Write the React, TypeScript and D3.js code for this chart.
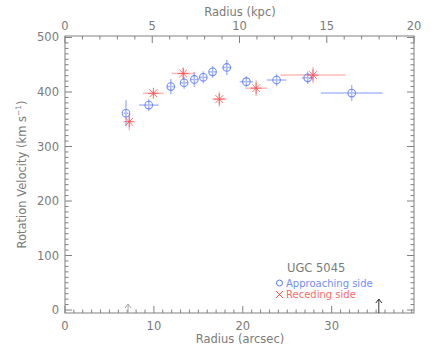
import React from "react";
import * as d3 from "d3";

// Approaching side (blue circles)
const appR = [6.86, 9.42, 11.9, 13.4, 14.55, 15.56, 16.6, 18.2, 20.4, 23.8, 27.3, 32.25];
const appRerr = [0.25, 1.1, 0.45, 0.4, 0.45, 0.4, 0.4, 0.5, 0.75, 1.1, 0.65, 3.47];
const appV = [361, 376, 410, 417, 423, 427, 437, 445, 419, 422, 426, 398];
const appVerr = [24, 11, 14, 11, 14, 11, 11, 14, 10, 11.5, 11.5, 15];

// Receding side (red stars)
const recR = [7.23, 9.94, 13.3, 17.36, 21.5, 27.9];
const recRerr = [0.2, 1.16, 1.3, 0.8, 1.25, 3.66];
const recV = [345.5, 397.6, 434, 387, 407, 431];
const recVerr = [15.6, 5, 11, 14, 14.5, 15];

const xTicks = [0, 10, 20, 30];
const kpcTicks = [0, 5, 10, 15, 20];
const yTicks = [0, 100, 200, 300, 400, 500];
const arrowsR = [7.1, 35.3];

const W = 436, H = 349;
const L = 65, R = 414, T = 36, B = 313;
const AX = "#808080";
const TXT = "#7a7a7a";
const BLUE = "#5a78ff";
const RED = "#ff5050";
const FONT = "'DejaVu Sans', sans-serif";

export default function App() {
  const x = d3.scaleLinear().domain([0, 39.26]).range([L, R]);
  const xk = d3.scaleLinear().domain([0, 20]).range([L, R]);
  const y = d3.scaleLinear().domain([-5.5, 502.75]).range([B, T]);

  const xMinor = d3.range(0, 40, 1).filter((v) => x(v) <= R + 0.1);
  const kMinor = d3.range(0, 21, 1);
  const yMinor = d3.range(0, 501, 10);

  const star = (cx: number, cy: number, r: number, key: string) => {
    const angles = [0, 45, 90, 135];
    return (
      <g key={key}>
        {angles.map((a) => {
          const rad = (a * Math.PI) / 180;
          const dx = Math.cos(rad) * r, dy = Math.sin(rad) * r;
          return <line key={a} x1={cx - dx} y1={cy - dy} x2={cx + dx} y2={cy + dy} stroke={RED} strokeWidth={1} opacity={0.8} />;
        })}
      </g>
    );
  };

  return (
    <svg width={W} height={H} style={{ position: "absolute", left: 0, top: 0, background: "#fff" }} fontFamily={FONT}>
      <rect x={0} y={0} width={W} height={H} fill="#fff" />
      <rect x={L} y={T} width={R - L} height={B - T} fill="none" stroke={AX} strokeWidth={1} />
      {xMinor.map((v) => (
        <line key={"xm" + v} x1={x(v)} x2={x(v)} y1={B} y2={B - (v % 10 === 0 ? 7 : 3.5)} stroke={AX} />
      ))}
      {kMinor.map((v) => (
        <line key={"km" + v} x1={xk(v)} x2={xk(v)} y1={T} y2={T + (v % 5 === 0 ? 7 : 3.5)} stroke={AX} />
      ))}
      {yMinor.map((v) => (
        <g key={"ym" + v}>
          <line x1={L} x2={L + (v % 100 === 0 ? 7 : 3.5)} y1={y(v)} y2={y(v)} stroke={AX} />
          <line x1={R} x2={R - (v % 100 === 0 ? 7 : 3.5)} y1={y(v)} y2={y(v)} stroke={AX} />
        </g>
      ))}
      {xTicks.map((v) => (
        <text key={"xt" + v} x={x(v)} y={330} textAnchor="middle" fontSize={11.5} fill={TXT}>{v}</text>
      ))}
      {kpcTicks.map((v) => (
        <text key={"kt" + v} x={xk(v)} y={30} textAnchor="middle" fontSize={11.5} fill={TXT}>{v}</text>
      ))}
      {yTicks.map((v) => (
        <text key={"yt" + v} x={59} y={y(v) + 4} textAnchor="end" fontSize={11.5} fill={TXT}>{v}</text>
      ))}
      <text x={240} y={16} textAnchor="middle" fontSize={11.5} fill={TXT}>Radius (kpc)</text>
      <text x={240} y={343} textAnchor="middle" fontSize={11.5} fill={TXT}>Radius (arcsec)</text>
      <text transform={`translate(26,${(T + B) / 2}) rotate(-90)`} textAnchor="middle" fontSize={11.5} fill={TXT}>
        Rotation Velocity (km s<tspan dy={-5} fontSize={7.5}>−1</tspan><tspan dy={5}>)</tspan>
      </text>
      {arrowsR.map((r, i) => {
        const top = i === 0 ? 304 : 299;
        const col = i === 0 ? "#aaa" : "#333";
        return (
          <g key={"ar" + i} stroke={col} strokeWidth={1} fill="none">
            <line x1={x(r)} x2={x(r)} y1={B} y2={top} />
            <polyline points={`${x(r) - 3},${top + 4} ${x(r)},${top} ${x(r) + 3},${top + 4}`} />
          </g>
        );
      })}
      {appR.map((r, i) => (
        <g key={"ae" + i} stroke={BLUE} strokeWidth={1.5} opacity={0.5}>
          <line x1={x(r - appRerr[i])} x2={x(r + appRerr[i])} y1={y(appV[i])} y2={y(appV[i])} />
          <line x1={x(r)} x2={x(r)} y1={y(appV[i] - appVerr[i])} y2={y(appV[i] + appVerr[i])} />
        </g>
      ))}
      {recR.map((r, i) => (
        <g key={"re" + i} stroke={RED} strokeWidth={1.5} opacity={0.4}>
          <line x1={x(r - recRerr[i])} x2={x(r + recRerr[i])} y1={y(recV[i])} y2={y(recV[i])} />
          <line x1={x(r)} x2={x(r)} y1={y(recV[i] - recVerr[i])} y2={y(recV[i] + recVerr[i])} />
        </g>
      ))}
      {appR.map((r, i) => (
        <circle key={"ac" + i} cx={x(r)} cy={y(appV[i])} r={3.8} fill="none" stroke={BLUE} strokeWidth={1.1} opacity={0.85} />
      ))}
      {recR.map((r, i) => star(x(r), y(recV[i]), 5.5, "rs" + i))}
      <text x={287} y={272} fontSize={11.5} fill={TXT}>UGC 5045</text>
      <circle cx={279.5} cy={283} r={3} fill="none" stroke={BLUE} strokeWidth={1} />
      <text x={286} y={286.5} fontSize={10} fill={BLUE} opacity={0.85}>Approaching side</text>
      <g stroke={RED} strokeWidth={1}>
        <line x1={276} x2={283} y1={291} y2={298} />
        <line x1={276} x2={283} y1={298} y2={291} />
      </g>
      <text x={286} y={298} fontSize={10} fill={RED} opacity={0.85}>Receding side</text>
    </svg>
  );
}
